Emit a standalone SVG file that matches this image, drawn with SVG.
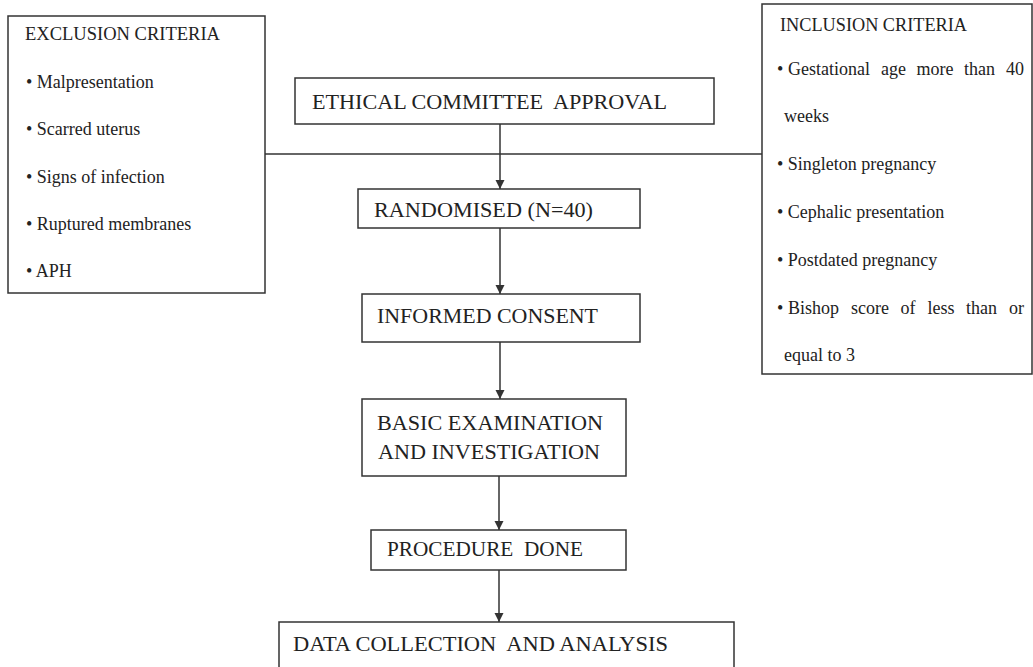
<svg xmlns="http://www.w3.org/2000/svg" width="1033" height="667" viewBox="0 0 1033 667" xml:space="preserve">
<style>
.box{fill:#fff;stroke:#333;stroke-width:1.5}
.lbl{font-family:"Liberation Serif","Times New Roman",serif;font-size:22px;fill:#222;white-space:pre}
.sm{font-family:"Liberation Serif","Times New Roman",serif;font-size:18px;fill:#222;white-space:pre}
.conn{stroke:#333;stroke-width:1.5;fill:none}
</style>
<defs>
<marker id="arr" markerUnits="userSpaceOnUse" markerWidth="10" markerHeight="10" refX="9" refY="5" orient="auto">
<path d="M0,0.5 L9,5 L0,9.5 Z" fill="#333"/>
</marker>
</defs>
<rect width="1033" height="667" fill="#fff"/>
<g id="connectors">
<line class="conn" x1="265" y1="154" x2="762" y2="154"/>
<line class="conn" x1="500" y1="124" x2="500" y2="189" marker-end="url(#arr)"/>
<line class="conn" x1="500" y1="228" x2="500" y2="294" marker-end="url(#arr)"/>
<line class="conn" x1="500" y1="342" x2="500" y2="399" marker-end="url(#arr)"/>
<line class="conn" x1="499" y1="476" x2="499" y2="530" marker-end="url(#arr)"/>
<line class="conn" x1="499" y1="570" x2="499" y2="622" marker-end="url(#arr)"/>
</g>
<g id="exclusion">
<rect class="box" x="8" y="16" width="257" height="277"/>
<text class="sm" x="25" y="40" textLength="195" lengthAdjust="spacingAndGlyphs">EXCLUSION CRITERIA</text>
<text class="sm" x="26" y="88">• Malpresentation</text>
<text class="sm" x="26" y="135">• Scarred uterus</text>
<text class="sm" x="26" y="183">• Signs of infection</text>
<text class="sm" x="26" y="230">• Ruptured membranes</text>
<text class="sm" x="26" y="277">• APH</text>
</g>
<g id="inclusion">
<rect class="box" x="762" y="4" width="270" height="370"/>
<text class="sm" x="780" y="31" textLength="187" lengthAdjust="spacingAndGlyphs">INCLUSION CRITERIA</text>
<text class="sm" x="777" y="75">•</text>
<text class="sm" x="788" y="75">Gestational</text>
<text class="sm" x="881" y="75">age</text>
<text class="sm" x="916.5" y="75">more</text>
<text class="sm" x="964" y="75">than</text>
<text class="sm" x="1006" y="75">40</text>
<text class="sm" x="784" y="122">weeks</text>
<text class="sm" x="777" y="170">• Singleton pregnancy</text>
<text class="sm" x="777" y="218">• Cephalic presentation</text>
<text class="sm" x="777" y="266">• Postdated pregnancy</text>
<text class="sm" x="777" y="314">•</text>
<text class="sm" x="788" y="314">Bishop</text>
<text class="sm" x="851" y="314">score</text>
<text class="sm" x="900.5" y="314">of</text>
<text class="sm" x="927.5" y="314">less</text>
<text class="sm" x="966" y="314">than</text>
<text class="sm" x="1009" y="314">or</text>
<text class="sm" x="784" y="361">equal to 3</text>
</g>
<g id="ethical">
<rect class="box" x="295" y="78" width="419" height="46"/>
<text class="lbl" x="312" y="109" textLength="355" lengthAdjust="spacingAndGlyphs">ETHICAL COMMITTEE  APPROVAL</text>
</g>
<g id="randomised">
<rect class="box" x="358" y="189" width="282" height="39"/>
<text class="lbl" x="374" y="217" textLength="219" lengthAdjust="spacingAndGlyphs">RANDOMISED (N=40)</text>
</g>
<g id="consent">
<rect class="box" x="362" y="294" width="278" height="48"/>
<text class="lbl" x="377" y="323" textLength="221" lengthAdjust="spacingAndGlyphs">INFORMED CONSENT</text>
</g>
<g id="examination">
<rect class="box" x="362" y="399" width="264" height="77"/>
<text class="lbl" x="377" y="430" textLength="226" lengthAdjust="spacingAndGlyphs">BASIC EXAMINATION</text>
<text class="lbl" x="378" y="459" textLength="222" lengthAdjust="spacingAndGlyphs">AND INVESTIGATION</text>
</g>
<g id="procedure">
<rect class="box" x="371" y="530" width="255" height="40"/>
<text class="lbl" x="387" y="556" textLength="196" lengthAdjust="spacingAndGlyphs">PROCEDURE  DONE</text>
</g>
<g id="data">
<rect class="box" x="279" y="622" width="455" height="60"/>
<text class="lbl" x="293" y="651" textLength="375" lengthAdjust="spacingAndGlyphs">DATA COLLECTION  AND ANALYSIS</text>
</g>
</svg>
